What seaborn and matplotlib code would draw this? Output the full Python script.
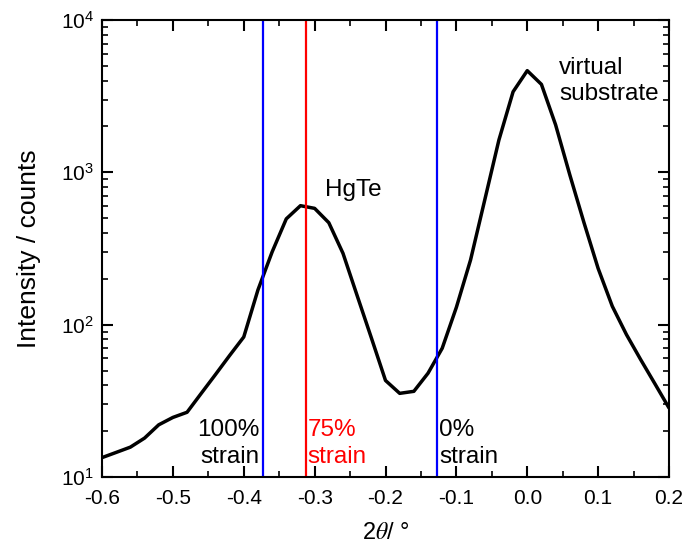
import pandas as pd
import matplotlib
matplotlib.use('Agg')
import matplotlib.pyplot as plt
import seaborn as sns

# scan data
two_theta = [-0.60, -0.58, -0.56, -0.54, -0.52, -0.50, -0.48, -0.46, -0.44, -0.42,
             -0.40, -0.38, -0.36, -0.34, -0.32, -0.30, -0.28, -0.26, -0.24, -0.22,
             -0.20, -0.18, -0.16, -0.14, -0.12, -0.10, -0.08, -0.06, -0.04, -0.02,
             0.00, 0.02, 0.04, 0.06, 0.08, 0.10, 0.12, 0.14, 0.16, 0.18, 0.20]
intensity = [13.4, 14.5, 15.7, 18.0, 22.0, 24.6, 26.6, 35.4, 47.0, 62.7,
             83.0, 169, 300, 495, 604, 580, 467, 294, 155, 82,
             43.0, 35.4, 36.5, 48.0, 70.0, 130, 266, 658, 1630, 3380,
             4650, 3780, 2050, 964, 468, 234, 132, 86, 59, 41, 28.4]

# strain reference positions
strain_pos = [-0.373, -0.312, -0.127]
strain_colors = ['blue', 'red', 'blue']
strain_labels = ['100%\nstrain', '75%\nstrain', '0%\nstrain']

df = pd.DataFrame({'two_theta': two_theta, 'intensity': intensity})

sns.set_style('ticks')
plt.rcParams['font.family'] = ['Liberation Sans', 'DejaVu Sans']
plt.rcParams.update({
    'mathtext.fontset': 'stix',
    'axes.unicode_minus': False,
    'text.color': 'black',
    'axes.labelcolor': 'black',
    'axes.edgecolor': 'black',
    'xtick.color': 'black',
    'ytick.color': 'black',
    'xtick.direction': 'in',
    'ytick.direction': 'in',
    'xtick.top': True,
    'ytick.right': True,
    'xtick.labelsize': 15,
    'ytick.labelsize': 15,
    'axes.linewidth': 1.5,
})

fig = plt.figure(figsize=(6.87, 5.48), dpi=100)
ax = fig.add_axes([0.1485, 0.1296, 0.8253, 0.8339])

sns.lineplot(data=df, x='two_theta', y='intensity', color='black', linewidth=2.5, ax=ax)

for pos, col in zip(strain_pos, strain_colors):
    ax.axvline(pos, color=col, linewidth=1.6)

ax.set_yscale('log')
ax.set_xlim(-0.6, 0.2)
ax.set_ylim(10, 1e4)
ax.set_xticks([-0.6, -0.5, -0.4, -0.3, -0.2, -0.1, 0.0, 0.1, 0.2])
ax.set_xticks([-0.55, -0.45, -0.35, -0.25, -0.15, -0.05, 0.05, 0.15], minor=True)
ax.tick_params(which='major', length=8, width=1.5, pad=9)
ax.tick_params(axis='y', which='major', pad=6)
ax.tick_params(which='minor', length=4, width=1.2)
ax.tick_params(axis='y', which='minor', right=True, direction='in')
ax.tick_params(axis='x', which='minor', top=True, direction='in')

ax.set_xlabel(r'2$\theta$/ °', fontsize=17, labelpad=10)
ax.set_ylabel('Intensity / counts', fontsize=19, labelpad=14)

# annotations
ax.text(-0.378, 11.5, strain_labels[0], ha='right', va='bottom', fontsize=17.5,
        color='black', linespacing=1.25)
ax.text(-0.310, 11.5, strain_labels[1], ha='left', va='bottom', fontsize=17.5,
        color='red', linespacing=1.25)
ax.text(-0.124, 11.5, strain_labels[2], ha='left', va='bottom', fontsize=17.5,
        color='black', linespacing=1.25)
ax.text(-0.285, 760, 'HgTe', ha='left', va='center', fontsize=17.5)
ax.text(0.045, 5700, 'virtual\nsubstrate', ha='left', va='top', fontsize=17.5,
        linespacing=1.2)

fig.savefig('out.png', dpi=100)
